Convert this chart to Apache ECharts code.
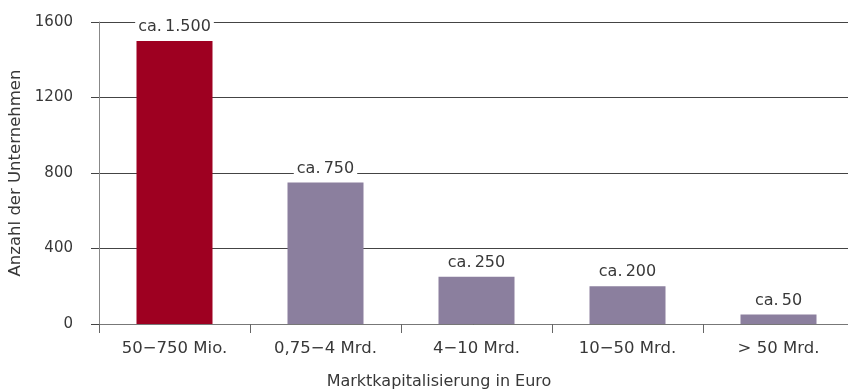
<!DOCTYPE html>
<html>
<head>
<meta charset="utf-8">
<script src="https://cdn.jsdelivr.net/npm/echarts@6/dist/echarts.min.js"></script>
<style>
  html, body { margin: 0; padding: 0; background: #fff; }
  #chart { width: 848px; height: 392px; }
</style>
</head>
<body>
<div id="chart"></div>
<script>
// Number of listed companies by market capitalisation class
const categories = ['50\u2212750 Mio.', '0,75\u22124 Mrd.', '4\u221210 Mrd.', '10\u221250 Mrd.', '> 50 Mrd.'];
const companies = [1500, 750, 250, 200, 50];
const yMin = 0;
const yMax = 1600;
const yStep = 400;

const FONT = 'DejaVu Sans';
const TEXT = '#383838';
const RED = '#9e0021';
const PURPLE = '#8b7f9e';

// German thousands separator: 1500 -> "1.500"
function deNumber(v) {
  return String(v).replace(/\B(?=(\d{3})+(?!\d))/g, '.');
}

const chart = echarts.init(document.getElementById('chart'), null, { renderer: 'canvas' });

chart.setOption({
  animation: false,
  backgroundColor: '#fff',
  grid: {
    left: 99, top: 22, width: 755, bottom: 68,
    containLabel: false,
    outerBoundsMode: 'none'
  },
  xAxis: {
    type: 'category',
    data: categories,
    boundaryGap: true,
    name: 'Marktkapitalisierung in Euro',
    nameLocation: 'middle',
    nameGap: 50,
    nameTextStyle: { fontFamily: FONT, fontSize: 16, color: TEXT, padding: [0, 75, 0, 0] },
    axisLine: { show: true, lineStyle: { color: '#777', width: 1 } },
    axisTick: { show: true, alignWithLabel: false, length: 9, lineStyle: { color: '#666' } },
    axisLabel: { fontFamily: FONT, fontSize: 16.5, color: TEXT, margin: 16 },
    splitLine: { show: false }
  },
  yAxis: {
    type: 'value',
    min: yMin,
    max: yMax,
    interval: yStep,
    name: 'Anzahl der Unternehmen',
    nameLocation: 'middle',
    nameGap: 73,
    nameRotate: 90,
    nameTextStyle: { fontFamily: FONT, fontSize: 16.5, color: TEXT },
    axisLine: { show: true, lineStyle: { color: '#888', width: 1 } },
    axisTick: { show: true, inside: false, length: 8, lineStyle: { color: '#444' } },
    axisLabel: {
      fontFamily: FONT, fontSize: 15, color: TEXT, margin: 26,
      formatter: function (v) { return String(v); }
    },
    splitLine: { show: true, lineStyle: { color: '#444', width: 1 } }
  },
  series: [{
    type: 'bar',
    data: companies,
    barWidth: 76,
    itemStyle: {
      color: function (p) { return p.dataIndex === 0 ? RED : PURPLE; }
    },
    label: {
      show: true,
      position: 'top',
      distance: 6,
      fontFamily: FONT,
      fontSize: 16,
      color: TEXT,
      backgroundColor: '#fff',
      padding: [0, 3],
      formatter: function (p) { return 'ca.\u2009' + deNumber(p.value); }
    }
  }]
});
</script>
</body>
</html>
